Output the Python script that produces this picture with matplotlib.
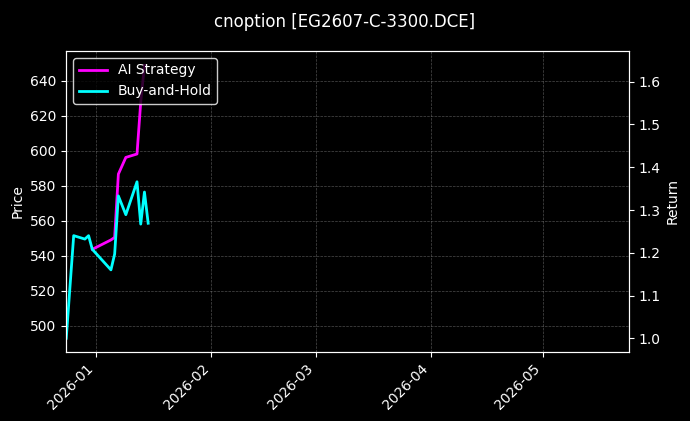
import matplotlib
matplotlib.use("Agg")
import matplotlib.pyplot as plt
import matplotlib.dates as mdates
import pandas as pd

bh_dates = ["2025-12-24","2025-12-26","2025-12-29","2025-12-30","2025-12-31","2026-01-05","2026-01-06","2026-01-07","2026-01-09","2026-01-12","2026-01-13","2026-01-14","2026-01-15"]
bh_vals = [1.0,1.24,1.232,1.24,1.208,1.16,1.197,1.333,1.289,1.366,1.267,1.342,1.269]
ai_dates = ["2025-12-31","2026-01-05","2026-01-06","2026-01-07","2026-01-09","2026-01-12","2026-01-13","2026-01-14"]
ai_vals = [1.208,1.23,1.236,1.384,1.423,1.431,1.552,1.638]

bg = "black"
fig = plt.figure(figsize=(6.9,4.21), dpi=100, facecolor=bg)
ax = fig.add_axes([0.096, 0.164, 0.815, 0.715])
ax.set_facecolor(bg)
ax2 = ax.twinx()
ax.set_ylim(485, 657)
ax.set_yticks(range(500, 641, 20))
ax.set_ylabel("Price", color="white")
ax2.set_ylabel("Return", color="white")
ax2.plot(pd.to_datetime(ai_dates), ai_vals, color="#ff00ff", lw=2, label="AI Strategy")
ax2.plot(pd.to_datetime(bh_dates), bh_vals, color="#00ffff", lw=2, label="Buy-and-Hold")
ax2.set_ylim(0.968, 1.672)
ax.set_xlim(pd.Timestamp("2025-12-24"), pd.Timestamp("2026-05-24"))
ax.xaxis.set_major_locator(mdates.MonthLocator())
ax.xaxis.set_major_formatter(mdates.DateFormatter("%Y-%m"))
for lab in ax.get_xticklabels():
    lab.set_rotation(45); lab.set_ha("right")
for a in (ax, ax2):
    a.tick_params(colors="white")
    for s in a.spines.values():
        s.set_color("white")
ax.grid(True, color="gray", ls="--", lw=0.5, alpha=0.6)
leg = ax2.legend(loc="upper left", facecolor="black", edgecolor="white", labelcolor="white")
fig.suptitle("cnoption [EG2607-C-3300.DCE]", color="white", y=0.97)
fig.savefig("out.png", facecolor=bg)
